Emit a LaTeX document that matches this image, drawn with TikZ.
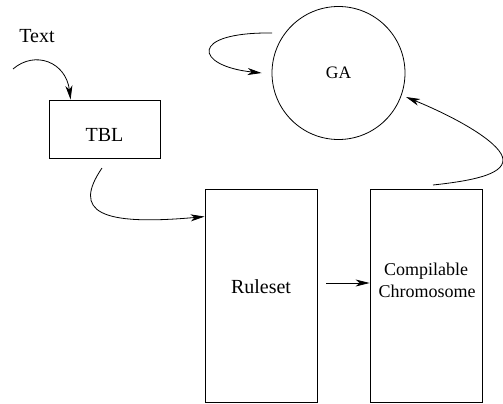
\documentclass[tikz,border=0pt]{standalone}
\usepackage{fontspec}
\setmainfont{Liberation Serif}
\usetikzlibrary{arrows.meta}
\begin{document}
\begin{tikzpicture}[x=1pt,y=-1pt,
  box/.style={draw,line width=0.8pt,minimum width=112pt,inner sep=0pt},
  lbl/.style={anchor=base,inner sep=0pt,font=\fontsize{20}{24}\selectfont},
  conn/.style={line width=0.8pt,-{Stealth[length=14pt,width=7pt,inset=4pt]}}]
\useasboundingbox (0,0) rectangle (503,404);
\node[box,minimum width=111pt,minimum height=58pt] (tbl) at (104.5,129) {};
\node[box,minimum height=213pt] (rule) at (261,295.5) {};
\node[box,minimum height=213pt] (chrom) at (426,295.5) {};
\node[draw,circle,line width=0.8pt,minimum size=133pt,inner sep=0pt] (ga) at (338.5,73) {};
\node[lbl] (txt) at (37,42.7) {Text};
\node[lbl] (tbllbl) at (104.5,141) {TBL};
\node[lbl] (rulelbl) at (261,293) {Ruleset};
\node[lbl,font=\fontsize{17.5}{21}\selectfont] (galbl) at (338.5,78.3) {GA};
\node[lbl,font=\fontsize{18}{21}\selectfont] (comp) at (426,275) {Compilable};
\node[lbl,font=\fontsize{18}{21}\selectfont] (chromo) at (427,297) {Chromosome};
\coordinate (tstart) at (13,69);
\coordinate (gstart) at (272,33);
\coordinate (cstart) at (433,185);
\coordinate (bstart) at (102,168);
\draw[conn] (tstart) .. controls (35,50) and (66,62) .. ([xshift=22pt]tbl.north west);
\draw[conn] (bstart) .. controls (72,212) and (100,226) .. ([yshift=-28pt]rule.north west);
\draw[conn] ([shift={(9pt,12.5pt)}]rule.east) -- ([yshift=12.5pt]chrom.west);
\draw[conn] (gstart) .. controls (188,32) and (195,66) .. ([xshift=-10pt]ga.west);
\draw[conn] (cstart) .. controls (470,181) and (503,175) .. (503,160) .. controls (503,145) and (462,120) .. ([shift={(67.5pt,-24pt)}]ga.center);
\end{tikzpicture}
\end{document}
